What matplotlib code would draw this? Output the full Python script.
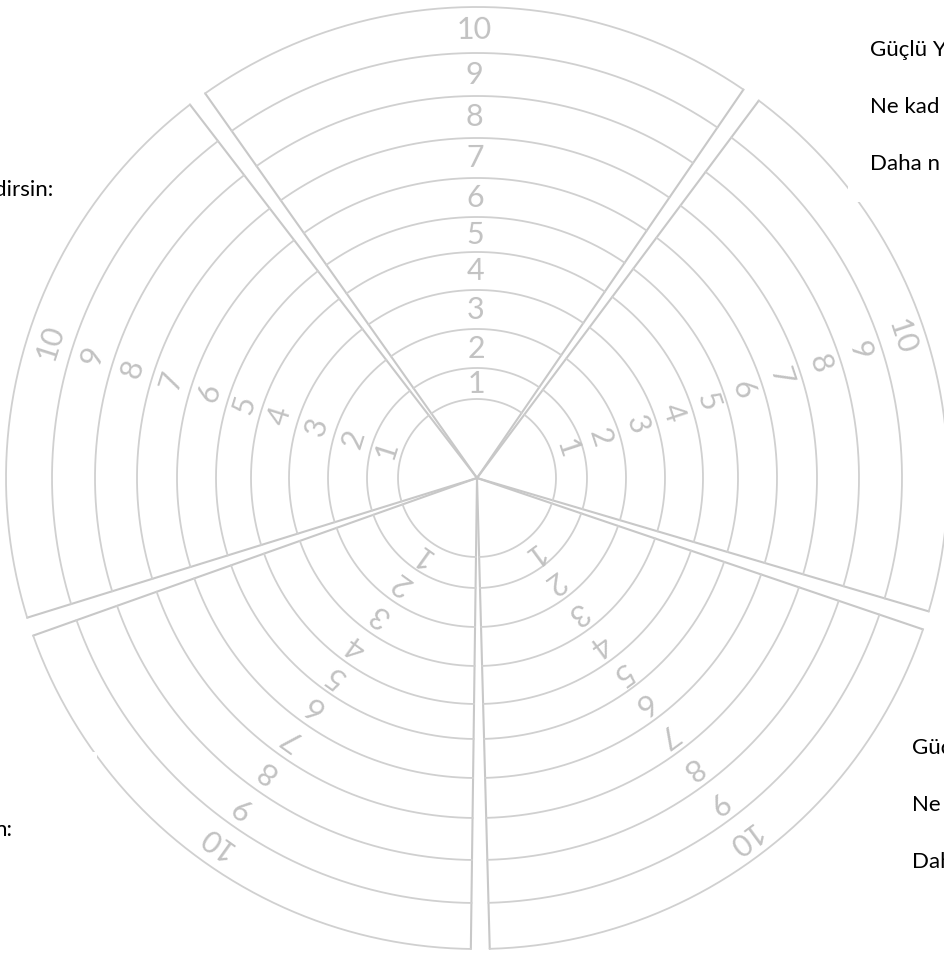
import numpy as np
import matplotlib.pyplot as plt
from matplotlib.patches import Rectangle

# wheel data
sector_count = 5
scale_labels = ['1', '2', '3', '4', '5', '6', '7', '8', '9', '10']
ring_radii = [79, 110, 149, 188, 226, 261, 300, 340, 382, 425, 471]

# side notes (cut off by the page edge)
notes_top_right = ['Güçlü Y', 'Ne kad', 'Daha n']
notes_bottom_right = ['Güçlü Y', 'Ne kad', 'Daha n']
note_top_left = 'dirsin:'
note_bottom_left = 'n:'

cx, cy = 477, 478
first_gap = 54.4
gap = 2.3
line_col = '#d0d0d0'
num_col = '#c2c2c2'

plt.rcParams['font.family'] = ['Lato', 'DejaVu Sans']
fig = plt.figure(figsize=(9.45, 9.56), dpi=100)
ax = fig.add_axes([0, 0, 1, 1])
ax.set_xlim(0, 945)
ax.set_ylim(956, 0)
ax.set_aspect('equal')
ax.axis('off')


def pt(r, a):
    t = np.radians(a)
    return cx + r * np.cos(t), cy - r * np.sin(t)


step = 360 / sector_count
for s in range(sector_count):
    a0 = first_gap + s * step + gap / 2
    a1 = first_gap + (s + 1) * step - gap / 2
    r_out = ring_radii[-1]
    # radial edges
    for a in (a0, a1):
        x1, y1 = pt(r_out, a)
        ax.plot([cx, x1], [cy, y1], color='#c8c8c8', lw=1.5, solid_capstyle='round')
    # arcs
    ang = np.linspace(a0, a1, 200)
    for r in ring_radii:
        xs, ys = pt(r, ang)
        ax.plot(xs, ys, color=line_col, lw=1.3)
    # numbers along the middle of the sector
    mid = (a0 + a1) / 2
    for i, lab in enumerate(scale_labels):
        rm = (ring_radii[i] + ring_radii[i + 1]) / 2
        x, y = pt(rm, mid)
        ax.text(x, y, lab, color=num_col, fontsize=22,
                rotation=mid - 90, rotation_mode='anchor',
                ha='center', va='center')

# text boxes sitting over the wheel
ax.add_patch(Rectangle((848, -5), 120, 207, facecolor='white', edgecolor='none', zorder=5))
ax.add_patch(Rectangle((-5, 752), 102, 220, facecolor='white', edgecolor='none', zorder=5))

for i, t in enumerate(notes_top_right):
    ax.text(870, 50 + i * 57, t, fontsize=16, color='black', va='center', zorder=6)
for i, t in enumerate(notes_bottom_right):
    ax.text(912, 748 + i * 57, t, fontsize=16, color='black', va='center', zorder=6)
ax.text(53, 190, note_top_left, fontsize=16, color='black', va='center', ha='right', zorder=6)
ax.text(12, 830, note_bottom_left, fontsize=16, color='black', va='center', ha='right', zorder=6)

plt.savefig('out.png', dpi=100)
